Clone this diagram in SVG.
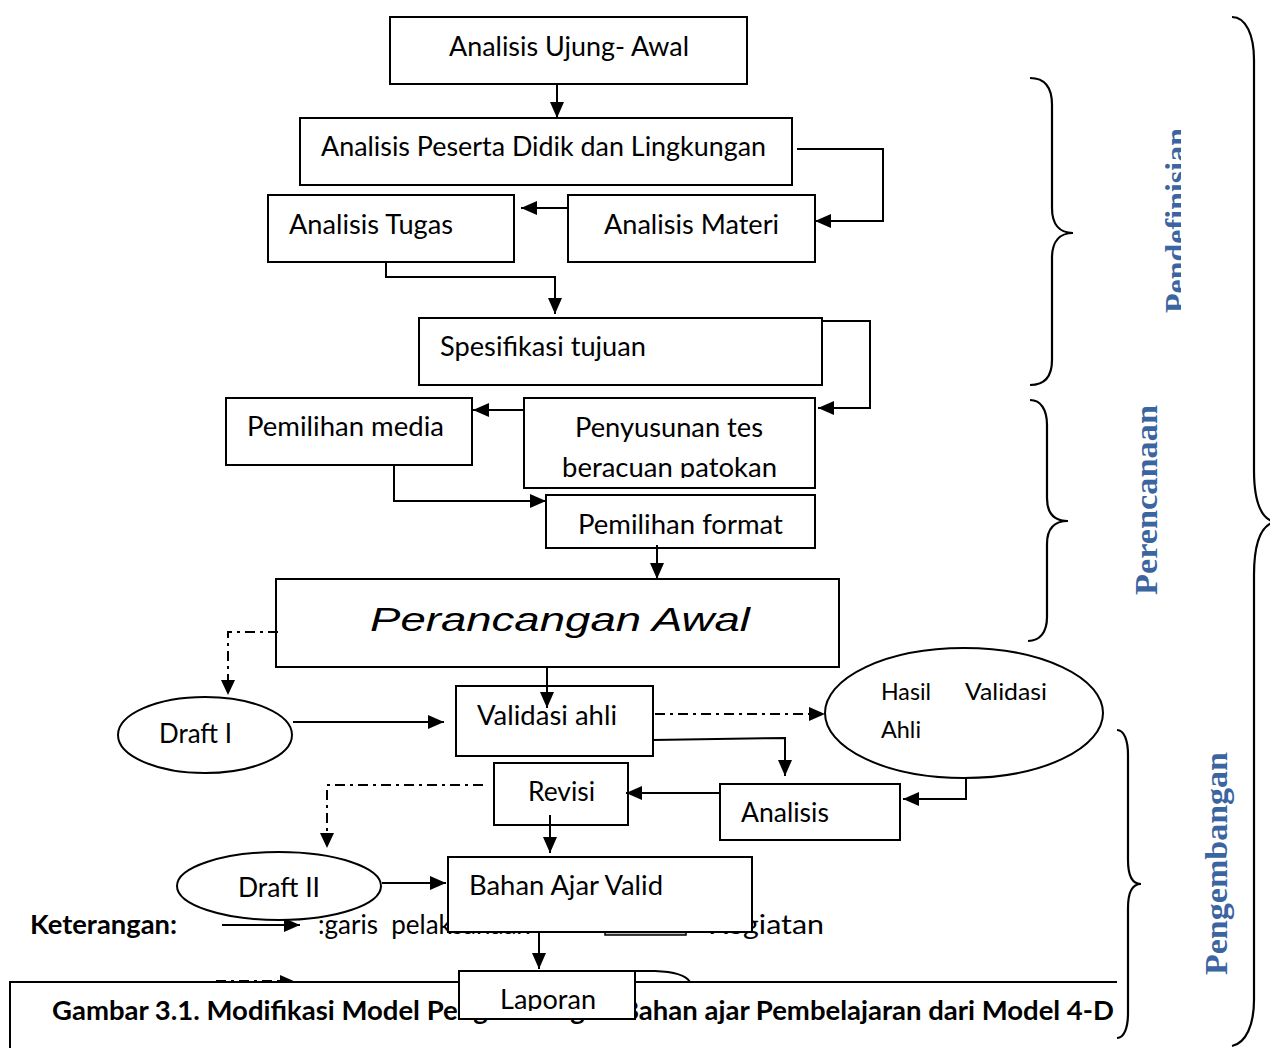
<svg xmlns="http://www.w3.org/2000/svg" width="1270" height="1048" viewBox="0 0 1270 1048">
<style>
.box{fill:#fff;stroke:#000;stroke-width:2}
.lbl{font-family:Lato,"Open Sans",sans-serif;font-size:26px;fill:#000}
.sm{font-size:23px}
.bold{font-weight:bold}
.con{fill:none;stroke:#000;stroke-width:2}
.dd{stroke-dasharray:10 5 3 5}
.brace{fill:none;stroke:#000;stroke-width:2.2}
.phase{font-family:"Liberation Serif","DejaVu Serif",serif;font-weight:bold;font-size:31px;fill:#3a65a0}
</style>
<defs>
<marker id="ah" viewBox="0 0 16 14" refX="16" refY="7" markerWidth="16" markerHeight="14" orient="auto" markerUnits="userSpaceOnUse"><path d="M0,0 L16,7 L0,14 z" fill="#000"/></marker>
<clipPath id="clipPeny"><rect x="524" y="398" width="291" height="80"/></clipPath>
<clipPath id="clipLap"><rect x="459" y="971" width="176" height="40"/></clipPath>
<clipPath id="clipCap"><rect x="10" y="982" width="1107" height="66"/></clipPath>
<clipPath id="clipPend"><rect x="1100" y="100" width="81" height="250"/></clipPath>
</defs>
<rect width="1270" height="1048" fill="#fff"/>

<g id="legend">
<text class="lbl bold" x="30" y="934" textLength="147" lengthAdjust="spacingAndGlyphs">Keterangan:</text>
<path class="con" d="M222,925 H300" marker-end="url(#ah)"/>
<text class="lbl" x="318" y="934" xml:space="preserve">:garis  pelaksanaan</text>
<rect x="605" y="912" width="81" height="23" fill="#c0c0c0" stroke="#000" stroke-width="1.5"/>
<text class="lbl" x="708" y="934" textLength="116" lengthAdjust="spacingAndGlyphs">Kegiatan</text>
<path class="con dd" d="M216,981 H282"/>
<path d="M280,975 L296,982 L280,989 z" fill="#000"/>
<path class="con" d="M635,971 L655,971 Q684,972 690,982"/>
</g>

<g id="n1"><rect class="box" x="390" y="17" width="357" height="67"/><text class="lbl" x="449" y="56" textLength="240" lengthAdjust="spacingAndGlyphs">Analisis Ujung- Awal</text></g>
<g id="n2"><rect class="box" x="300" y="118" width="492" height="67"/><text class="lbl" x="321" y="156" textLength="445" lengthAdjust="spacingAndGlyphs">Analisis Peserta Didik dan Lingkungan</text></g>
<g id="n3"><rect class="box" x="268" y="195" width="246" height="67"/><text class="lbl" x="289" y="234" textLength="164" lengthAdjust="spacingAndGlyphs">Analisis Tugas</text></g>
<g id="n4"><rect class="box" x="568" y="195" width="247" height="67"/><text class="lbl" x="604" y="234" textLength="175" lengthAdjust="spacingAndGlyphs">Analisis Materi</text></g>
<g id="n5"><rect class="box" x="419" y="318" width="403" height="67"/><text class="lbl" x="440" y="356" textLength="206" lengthAdjust="spacingAndGlyphs">Spesifikasi tujuan</text></g>
<g id="n6"><rect class="box" x="226" y="398" width="246" height="67"/><text class="lbl" x="247" y="436" textLength="197" lengthAdjust="spacingAndGlyphs">Pemilihan media</text></g>
<g id="n7"><rect class="box" x="524" y="398" width="291" height="90"/><g clip-path="url(#clipPeny)"><text class="lbl" x="575" y="437" textLength="188" lengthAdjust="spacingAndGlyphs">Penyusunan tes</text><text class="lbl" x="562" y="477" textLength="215" lengthAdjust="spacingAndGlyphs">beracuan patokan</text></g></g>
<g id="n8"><rect class="box" x="546" y="495" width="269" height="53"/><text class="lbl" x="578" y="534" textLength="205" lengthAdjust="spacingAndGlyphs">Pemilihan format</text></g>
<g id="n9"><rect class="box" x="276" y="579" width="563" height="88"/><text x="370" y="631" font-family="'Liberation Sans',Arial,sans-serif" font-style="italic" font-size="34" textLength="380" lengthAdjust="spacingAndGlyphs">Perancangan Awal</text></g>
<g id="n10"><ellipse class="box" cx="205" cy="735" rx="87" ry="38"/><text class="lbl" x="159" y="743" textLength="73" lengthAdjust="spacingAndGlyphs">Draft I</text></g>
<g id="n11"><rect class="box" x="456" y="686" width="197" height="70"/><text class="lbl" x="477" y="725" textLength="140" lengthAdjust="spacingAndGlyphs">Validasi ahli</text></g>
<g id="n12"><ellipse class="box" cx="964" cy="713" rx="139" ry="65"/><text class="lbl sm" x="881" y="700" textLength="50" lengthAdjust="spacingAndGlyphs">Hasil</text><text class="lbl sm" x="965" y="700" textLength="82" lengthAdjust="spacingAndGlyphs">Validasi</text><text class="lbl sm" x="881" y="738" textLength="40" lengthAdjust="spacingAndGlyphs">Ahli</text></g>
<g id="n13"><rect class="box" x="494" y="763" width="134" height="62"/><text class="lbl" x="528" y="801" textLength="67" lengthAdjust="spacingAndGlyphs">Revisi</text></g>
<g id="n14"><rect class="box" x="720" y="784" width="180" height="56"/><text class="lbl" x="741" y="822" textLength="88" lengthAdjust="spacingAndGlyphs">Analisis</text></g>
<g id="n15"><ellipse class="box" cx="279" cy="886" rx="102" ry="34"/><text class="lbl" x="238" y="897" textLength="82" lengthAdjust="spacingAndGlyphs">Draft II</text></g>
<g id="n16"><rect class="box" x="448" y="857" width="304" height="75"/><text class="lbl" x="469" y="895" textLength="194" lengthAdjust="spacingAndGlyphs">Bahan Ajar Valid</text></g>

<g id="caption">
<path d="M10,1048 V982 H1117 V1048 z" fill="#fff"/>
<path class="con" d="M10,1048 V982 H1117"/>
<g clip-path="url(#clipCap)"><text class="lbl bold" x="52" y="1020" textLength="1062" lengthAdjust="spacingAndGlyphs">Gambar 3.1. Modifikasi Model Pengembangan Bahan ajar Pembelajaran dari Model 4-D</text></g>
</g>

<g id="n17"><rect class="box" x="459" y="971" width="176" height="48"/><g clip-path="url(#clipLap)"><text class="lbl" x="500" y="1009" textLength="96" lengthAdjust="spacingAndGlyphs">Laporan</text></g></g>

<g id="connectors">
<path class="con" d="M557,84 V118" marker-end="url(#ah)"/>
<path class="con" d="M797,149 H883 V221 H815" marker-end="url(#ah)"/>
<path class="con" d="M568,208 H521" marker-end="url(#ah)"/>
<path class="con" d="M386,262 V277 H555 V314" marker-end="url(#ah)"/>
<path class="con" d="M822,321 H870 V408 H818" marker-end="url(#ah)"/>
<path class="con" d="M524,410 H473" marker-end="url(#ah)"/>
<path class="con" d="M394,465 V501 H546" marker-end="url(#ah)"/>
<path class="con" d="M657,545 V579" marker-end="url(#ah)"/>
<path class="con" d="M547,667 V708" marker-end="url(#ah)"/>
<path class="con dd" d="M278,632 H228 V680"/>
<path d="M221,680 L228,695 L235,680 z" fill="#000"/>
<path class="con" d="M293,722 H444" marker-end="url(#ah)"/>
<path class="con dd" d="M655,714 H810"/>
<path d="M809,707 L825,714 L809,721 z" fill="#000"/>
<path class="con" d="M653,740 L785,738 V776" marker-end="url(#ah)"/>
<path class="con" d="M966,778 V799 H903" marker-end="url(#ah)"/>
<path class="con" d="M720,793 H626" marker-end="url(#ah)"/>
<path class="con dd" d="M483,785 H327 V834"/>
<path d="M320,833 L327,848 L334,833 z" fill="#000"/>
<path class="con" d="M550,815 V853" marker-end="url(#ah)"/>
<path class="con" d="M382,883 H446" marker-end="url(#ah)"/>
<path class="con" d="M539,932 V969" marker-end="url(#ah)"/>
</g>

<g id="phases">
<path class="brace" d="M1030,78 C1045,78 1052,88 1052,105 L1052,208 C1052,225 1060,233 1073,233 C1060,233 1052,241 1052,258 L1052,360 C1052,377 1045,385 1030,385"/>
<path class="brace" d="M1030,400 C1041,400 1047,410 1047,425 L1047,498 C1047,514 1055,521 1068,521 C1055,521 1047,528 1047,544 L1047,617 C1047,632 1040,641 1028,641"/>
<path class="brace" d="M1117,730 C1124,730 1128,740 1128,755 L1128,860 C1128,876 1132,884 1141,884 C1132,884 1128,892 1128,908 L1128,1013 C1128,1028 1124,1038 1117,1038"/>
<path class="brace" d="M1232,17 C1246,17 1254,35 1254,60 L1254,470 C1254,500 1260,518 1274,522 C1260,526 1254,545 1254,575 L1254,1000 C1254,1025 1246,1043 1232,1046"/>
<g clip-path="url(#clipPend)"><text class="phase" transform="translate(1187,313) rotate(-90)" textLength="185" lengthAdjust="spacingAndGlyphs">Pendefinisian</text></g>
<text class="phase" transform="translate(1157,595) rotate(-90)" textLength="190" lengthAdjust="spacingAndGlyphs">Perencanaan</text>
<text class="phase" transform="translate(1227,975) rotate(-90)" textLength="223" lengthAdjust="spacingAndGlyphs">Pengembangan</text>
</g>
</svg>
